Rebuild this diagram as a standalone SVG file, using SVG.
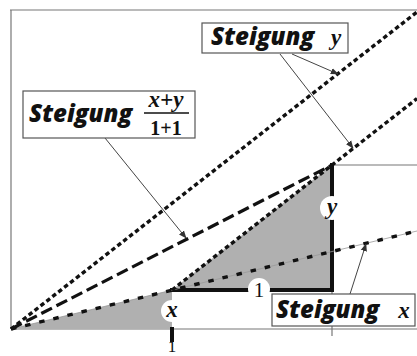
<svg xmlns="http://www.w3.org/2000/svg" width="417" height="356" viewBox="0 0 417 356">
<style>
.frame{stroke:#777;stroke-width:1.2;fill:none}
.thick{stroke:#111;stroke-width:4;fill:none;stroke-linecap:square}
.dy{stroke:#111;stroke-width:3.4;fill:none;stroke-dasharray:4.5 3}
.dl{stroke:#111;stroke-width:3.2;fill:none;stroke-dasharray:12 5}
.dx{stroke:#111;stroke-width:3.4;fill:none;stroke-dasharray:5.5 9}
.under{stroke:#999;stroke-width:0.8;fill:none}
.arr{stroke:#444;stroke-width:1;fill:none;marker-end:url(#ah)}
.box{fill:#fff;stroke:#555;stroke-width:1.2}
.st{font-family:"Open Sans","DejaVu Sans",sans-serif;font-weight:800;font-style:italic;font-size:24px;fill:#111}
.m{font-family:"Liberation Serif","DejaVu Serif",serif;font-style:italic;font-weight:bold;font-size:23px;fill:#111}
.n{font-family:"Liberation Serif","DejaVu Serif",serif;font-size:21px;fill:#111}
.nb{font-family:"Liberation Serif","DejaVu Serif",serif;font-weight:bold;font-size:20px;fill:#111}
</style>
<defs>
<marker id="ah" viewBox="0 0 10 10" refX="9" refY="5" markerWidth="8" markerHeight="8" markerUnits="userSpaceOnUse" orient="auto">
<path d="M0,1 L10,5 L0,9 z" fill="#333"/>
</marker>
</defs>
<rect width="417" height="356" fill="#fff"/>
<g id="axes">
<line class="frame" x1="10" y1="10" x2="417" y2="10"/>
<line class="frame" x1="11" y1="10" x2="11" y2="329"/>
<line class="frame" x1="11" y1="329" x2="417" y2="329"/>
<line class="frame" x1="332" y1="165" x2="417" y2="165"/>
<line class="frame" x1="332" y1="290" x2="332" y2="336"/>
</g>
<g id="triangles">
<polygon points="11,329 172,290 172,329" fill="#b0b0b0"/>
<polygon points="172,290 332,165 332,290" fill="#b0b0b0"/>
<line class="thick" x1="172" y1="290" x2="332" y2="290"/>
<line class="thick" x1="332" y1="290" x2="332" y2="165"/>
<line class="thick" x1="172" y1="329" x2="172" y2="340"/>
</g>
<g id="connectors">
<line class="under" x1="11" y1="329" x2="417" y2="231"/>
<line class="dx" x1="11" y1="329" x2="417" y2="231"/>
<line class="dy" x1="11" y1="329" x2="417" y2="12"/>
<line class="dy" x1="172" y1="290" x2="417" y2="98.6"/>
<line class="dl" x1="11" y1="329" x2="332" y2="165"/>
<line class="arr" x1="105" y1="138" x2="186" y2="238"/>
<line class="arr" x1="292" y1="54" x2="338" y2="74"/>
<line class="arr" x1="280" y1="54" x2="353" y2="148"/>
<line class="arr" x1="350" y1="294" x2="366" y2="244"/>
</g>
<g id="label-x">
<circle cx="172" cy="311" r="11" fill="#fff"/>
<text class="m" x="172" y="317" text-anchor="middle">x</text>
</g>
<g id="label-y">
<circle cx="332" cy="208" r="12" fill="#fff"/>
<text class="m" x="332" y="214" text-anchor="middle">y</text>
</g>
<g id="label-1">
<circle cx="259" cy="289" r="11" fill="#fff"/>
<text class="n" x="259" y="297" text-anchor="middle">1</text>
</g>
<g id="tick-1">
<text class="n" x="172" y="352" text-anchor="middle" style="font-size:17px">1</text>
</g>
<g id="box-xy">
<rect class="box" x="23" y="91" width="172" height="47"/>
<text class="st" x="29" y="122">Steigung</text>
<text class="m" x="166" y="107" text-anchor="middle">x+y</text>
<line x1="144" y1="113" x2="189" y2="113" stroke="#111" stroke-width="1.4"/>
<text class="nb" x="166" y="135" text-anchor="middle">1+1</text>
</g>
<g id="box-y">
<rect class="box" x="202" y="23" width="146" height="30"/>
<text class="st" x="211" y="45">Steigung</text>
<text class="m" x="336" y="45" text-anchor="middle">y</text>
</g>
<g id="box-x">
<rect class="box" x="272" y="294" width="143" height="32"/>
<text class="st" x="276" y="318">Steigung</text>
<text class="m" x="404" y="318" text-anchor="middle">x</text>
</g>
</svg>
